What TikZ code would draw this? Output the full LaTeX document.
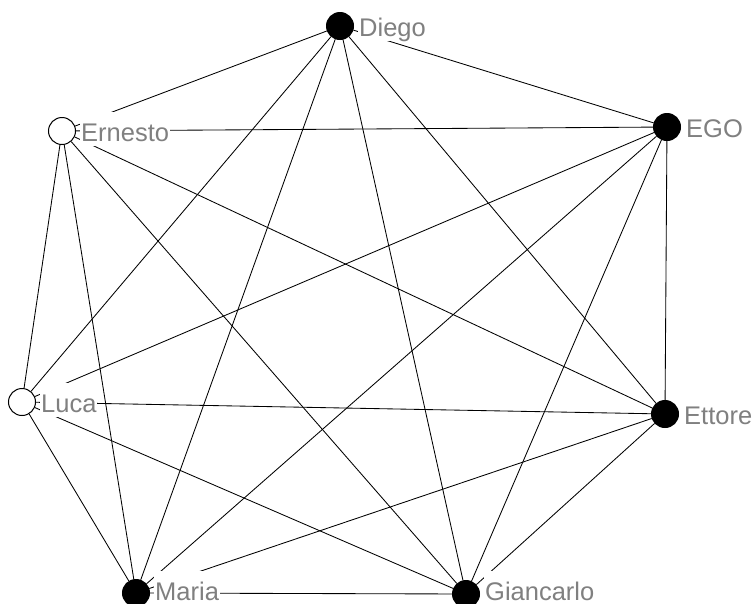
\documentclass[tikz,border=0pt]{standalone}
\usepackage{fontspec}
\setmainfont{Liberation Sans}
\usetikzlibrary{positioning}
\definecolor{lblgray}{RGB}{128,128,128}

\begin{document}
\begin{tikzpicture}[
        x=1pt, y=-1pt,
        actor/.style={circle, draw, line width=1pt, minimum size=27pt, inner sep=0pt},
        ego/.style={actor, fill=black},
        alter/.style={actor, fill=white},
        lbl/.style={fill=white, text=lblgray, font=\fontsize{25.5}{25.5}\selectfont,
                    anchor=base west, text height=28pt, text depth=4pt,
                    inner xsep=1pt, inner ysep=1pt},
        tie/.style={line width=0.85pt}
    ]
        \useasboundingbox (0,0) rectangle (755,603);
        \node[ego] (diego) at (340,26) {};
        \node[ego] (egonode) at (667,127) {};
        \node[alter] (ernesto) at (62,131) {};
        \node[alter] (luca) at (22,402) {};
        \node[ego] (ettore) at (665,414) {};
        \node[ego] (maria) at (136,593) {};
        \node[ego] (giancarlo) at (466,594) {};
        \draw[tie] (diego) -- (ernesto);
        \draw[tie] (diego) -- (egonode);
        \draw[tie] (diego) -- (luca);
        \draw[tie] (diego) -- (maria);
        \draw[tie] (diego) -- (giancarlo);
        \draw[tie] (diego) -- (ettore);
        \draw[tie] (ernesto) -- (egonode);
        \draw[tie] (ernesto) -- (luca);
        \draw[tie] (ernesto) -- (maria);
        \draw[tie] (ernesto) -- (giancarlo);
        \draw[tie] (ernesto) -- (ettore);
        \draw[tie] (egonode) -- (luca);
        \draw[tie] (egonode) -- (maria);
        \draw[tie] (egonode) -- (giancarlo);
        \draw[tie] (egonode) -- (ettore);
        \draw[tie] (luca) -- (ettore);
        \draw[tie] (luca) -- (maria);
        \draw[tie] (luca) -- (giancarlo);
        \draw[tie] (ettore) -- (maria);
        \draw[tie] (ettore) -- (giancarlo);
        \draw[tie] (maria) -- (giancarlo);
        % names on top of the ties
        \node[lbl] (diegolbl) at ([xshift=4pt, yshift=-10pt]diego.east) {Diego};
        \node[lbl] (egolbl) at ([xshift=4pt, yshift=-10pt]egonode.east) {EGO};
        \node[lbl] (ernestolbl) at ([xshift=4pt, yshift=-10pt]ernesto.east) {Ernesto};
        \node[lbl] (lucalbl) at ([xshift=4pt, yshift=-10pt]luca.east) {Luca};
        \node[lbl] (ettorelbl) at ([xshift=4pt, yshift=-10pt]ettore.east) {Ettore};
        \node[lbl] (marialbl) at ([xshift=4pt, yshift=-7pt]maria.east) {Maria};
        \node[lbl] (giancarlolbl) at ([xshift=4pt, yshift=-6pt]giancarlo.east) {Giancarlo};
    \end{tikzpicture}
\end{document}
